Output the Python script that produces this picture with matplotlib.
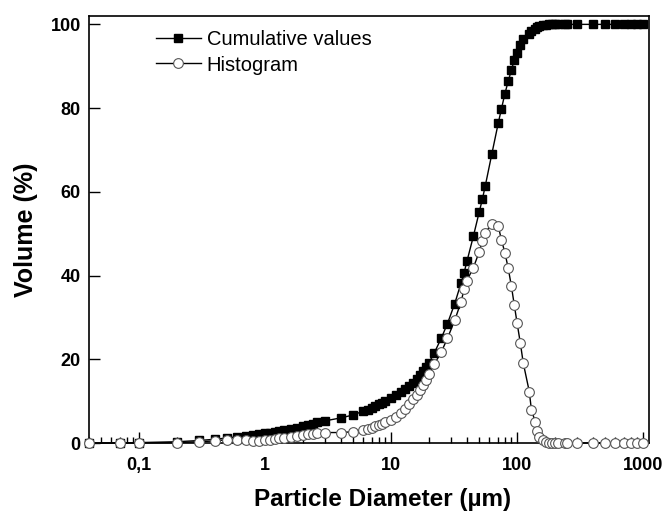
import matplotlib
matplotlib.use("Agg")
import matplotlib.pyplot as plt
from matplotlib.ticker import FixedLocator, FixedFormatter, LogLocator, NullFormatter

diameter = [0.04, 0.07, 0.1, 0.2, 0.3, 0.4, 0.5, 0.6, 0.7, 0.8, 0.9, 1.0, 1.1, 1.2, 1.3, 1.4,
            1.6, 1.8, 2.0, 2.2, 2.4, 2.6, 3.0, 4.0, 5.0, 6.0, 6.5, 7.0, 7.5, 8.0, 8.5, 9.0,
            10, 11, 12, 13, 14, 15, 16, 17, 18, 19, 20, 22, 25, 28, 32, 36, 38, 40, 45, 50,
            53, 56, 63, 71, 75, 80, 85, 90, 95, 100, 106, 112, 125, 130, 140, 145, 150, 160,
            170, 180, 190, 200, 212, 242, 250, 300, 400, 500, 600, 700, 800, 900, 1000]

cumulative = [0, 0, 0.1, 0.3, 0.6, 0.9, 1.2, 1.5, 1.7, 1.9, 2.1, 2.3, 2.5, 2.7, 2.9, 3.1,
              3.4, 3.7, 4.0, 4.3, 4.6, 4.9, 5.3, 6.0, 6.7, 7.6, 8.0, 8.4, 8.8, 9.2, 9.6, 10.0,
              10.8, 11.5, 12.2, 12.9, 13.6, 14.4, 15.3, 16.2, 17.2, 18.2, 19.2, 21.5, 25.0, 28.5,
              33.3, 38.3, 40.7, 43.4, 49.4, 55.1, 58.2, 61.5, 69.0, 76.5, 79.7, 83.4, 86.4, 89.0,
              91.5, 93.1, 95.1, 96.4, 97.7, 98.4, 99.0, 99.3, 99.6, 99.8, 99.9, 100, 100, 100,
              100, 100, 100, 100, 100, 100, 100, 100, 100, 100, 100]

histogram = [0, 0, 0, 0.1, 0.3, 0.5, 0.8, 0.8, 0.6, 0.5, 0.5, 0.6, 0.7, 0.9, 1.1, 1.3,
             1.5, 1.7, 1.9, 2.1, 2.2, 2.3, 2.5, 2.5, 2.7, 3.1, 3.4, 3.7, 4.0, 4.3, 4.6, 4.9,
             5.5, 6.3, 7.1, 8.2, 9.4, 10.4, 11.5, 12.7, 13.9, 15.1, 16.4, 18.8, 21.7, 25.0,
             29.3, 33.8, 36.8, 38.8, 41.9, 45.6, 48.2, 50.2, 52.4, 51.8, 48.6, 45.5, 41.8, 37.6,
             33.0, 28.7, 24.0, 19.1, 12.3, 7.9, 4.9, 2.8, 1.5, 0.7, 0.3, 0.1, 0, 0,
             0, 0, 0, 0, 0, 0, 0, 0, 0, 0, 0]

xtick_vals = [0.1, 1, 10, 100, 1000]
xtick_labels = ["0,1", "1", "10", "100", "1000"]
ytick_vals = [0, 20, 40, 60, 80, 100]

plt.rcParams['font.family'] = ['Liberation Sans', 'DejaVu Sans']

fig = plt.figure(figsize=(6.68, 5.14), dpi=100)
ax = fig.add_axes([89/668, 1-443/514, (649-89)/668, (443-16)/514])

ax.plot(diameter, cumulative, color='black', lw=1.0, marker='s', ms=6.0,
        mfc='black', mec='black', label='Cumulative values', clip_on=False, zorder=3)
ax.plot(diameter, histogram, color='black', lw=1.0, marker='o', ms=7.0,
        mfc='white', mec='#555555', mew=0.8, label='Histogram', clip_on=False, zorder=4)

ax.set_xscale('log')
ax.set_xlim(0.04, 1115)
ax.set_ylim(0, 102)

ax.xaxis.set_major_locator(FixedLocator(xtick_vals))
ax.xaxis.set_major_formatter(FixedFormatter(xtick_labels))
ax.xaxis.set_minor_locator(LogLocator(base=10, subs=range(2, 10), numticks=20))
ax.xaxis.set_minor_formatter(NullFormatter())
ax.set_yticks(ytick_vals)

ax.tick_params(axis='both', which='major', direction='in', length=8, width=1.0,
               labelsize=13, top=False, right=False)
ax.tick_params(axis='x', which='minor', direction='in', length=4, width=1.0,
               top=False)
ax.tick_params(axis='y', which='minor', left=False, right=False)
for lab in ax.get_xticklabels() + ax.get_yticklabels():
    lab.set_fontweight('bold')
ax.tick_params(axis='x', which='major', pad=10)
ax.tick_params(axis='y', which='major', pad=6)

for sp in ax.spines.values():
    sp.set_linewidth(1.2)

ax.set_xlabel('Particle Diameter (µm)', fontsize=17.5, fontweight='bold', labelpad=10)
ax.xaxis.label.set_x(0.525)
ax.set_ylabel('Volume (%)', fontsize=18, fontweight='bold', labelpad=9)

leg = ax.legend(loc='upper left', bbox_to_anchor=(0.095, 1.0), frameon=False,
                fontsize=14.5, handlelength=2.2, handletextpad=0.3, labelspacing=0.32,
                borderaxespad=0.3)

fig.savefig('out.png', dpi=100)
